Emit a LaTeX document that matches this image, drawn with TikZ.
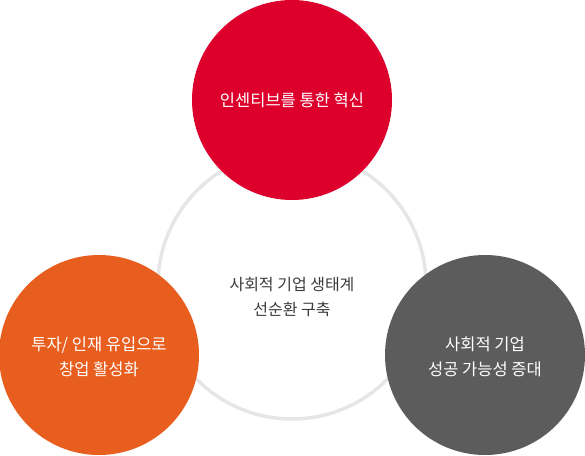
\documentclass[tikz,border=0pt]{standalone}
\usepackage{fontspec}
\setmainfont{Noto Sans CJK KR}
\definecolor{cred}{HTML}{DD002D}
\definecolor{corange}{HTML}{E85E1F}
\definecolor{cdark}{HTML}{5C5C5C}
\definecolor{cring}{HTML}{E6E6E6}
\definecolor{ctext}{HTML}{3C3C3C}
\tikzset{
  bubble/.style={circle, minimum size=200bp, inner sep=0pt, text=white, align=center,
    font=\fontsize{16.5bp}{25.5bp}\selectfont},
  ringline/.style={draw=cring, line width=3.5bp},
  hubtext/.style={text=ctext, align=center, font=\fontsize{16bp}{25.5bp}\selectfont}
}
\begin{document}
\begin{tikzpicture}[x=1bp,y=-1bp]
\useasboundingbox (0,0) rectangle (585,456);
\node[ringline, circle, minimum size=268bp, inner sep=0pt] (ring) at (292,285) {};
\node[hubtext] (hub) at (292,297) {사회적 기업 생태계\\선순환 구축};
\node[bubble, fill=cred] (top) at (292,100) {인센티브를 통한 혁신};
\node[bubble, fill=corange] (left) at (99,355) {};
\node[bubble, fill=cdark] (right) at (485,355) {};
\node[bubble, minimum size=0pt] (lefttext) at (99,357) {투자/ 인재 유입으로\\창업 활성화};
\node[bubble, minimum size=0pt] (righttext) at (485,357) {사회적 기업\\성공 가능성 증대};
\end{tikzpicture}
\end{document}
